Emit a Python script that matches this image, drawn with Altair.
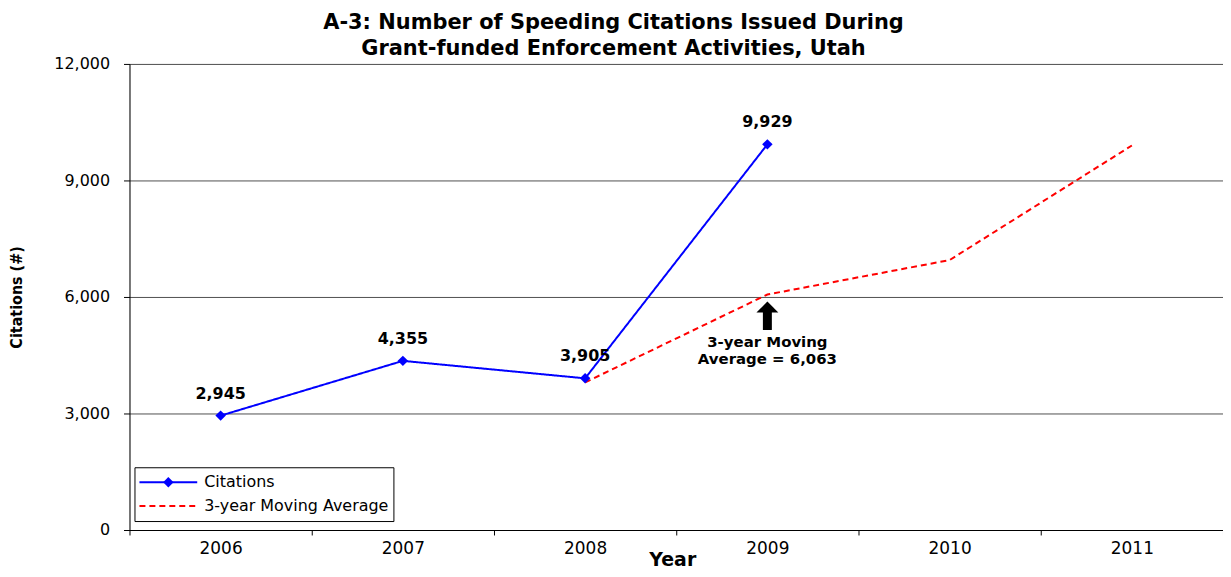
import altair as alt
import pandas as pd

years = ["2006", "2007", "2008", "2009", "2010", "2011"]
cit_years = ["2006", "2007", "2008", "2009"]
citations = [2945, 4355, 3905, 9929]
ma_years = ["2008", "2009", "2010", "2011"]
moving_avg = [3800, 6063, 6950, 9900]
series_names = ["Citations", "3-year Moving Average"]
y_ticks = [0, 3000, 6000, 9000, 12000]

FONT = "DejaVu Sans"

rows = []
for y, v in zip(cit_years, citations):
    rows.append({"year": y, "value": v, "series": series_names[0], "order": int(y)})
for y, v in zip(ma_years, moving_avg):
    rows.append({"year": y, "value": v, "series": series_names[1], "order": int(y)})
df = pd.DataFrame(rows)
cit_df = pd.DataFrame({"year": cit_years, "value": citations, "marker": [series_names[0]] * len(cit_years)})

x_enc = alt.X("year:O", scale=alt.Scale(type="band", domain=years, paddingInner=0, paddingOuter=0),
              axis=alt.Axis(title="Year", labelAngle=0, tickBand="extent", tickSize=5, tickColor="black",
                            domainColor="black", labelFontSize=17, labelPadding=6, labelColor="black",
                            titleFontSize=19, titleFontWeight="bold", titleX=545, titleY=36,
                            titleBaseline="alphabetic",
                            labelFont=FONT, titleFont=FONT, titleColor="black", grid=False))
y_enc = alt.Y("value:Q", scale=alt.Scale(domain=[0, 12000], nice=False),
              axis=alt.Axis(title="Citations (#)", values=y_ticks, format=",.0f", grid=True,
                            gridColor="#505050", gridOpacity=1, tickSize=6, tickColor="black",
                            domainColor="black", labelFontSize=16, labelPadding=14, labelColor="black",
                            labelFont=FONT, titleFont="DejaVu Sans Condensed", titleFontSize=16,
                            titleFontWeight="bold", titleColor="black", titleX=-113, titleY=234,
                            titleAlign="center", titleBaseline="middle", titleAngle=270))

lines = alt.Chart(df).mark_line(strokeWidth=2).encode(
    x=x_enc,
    y=y_enc,
    order="order:Q",
    color=alt.Color("series:N", scale=alt.Scale(domain=series_names, range=["#0000FF", "#FF0000"]),
                    legend=alt.Legend(title=None, orient="none", legendX=5, legendY=405,
                                      strokeColor="black", fillColor="white", padding=4,
                                      labelFontSize=16, labelFont=FONT, labelColor="black", labelLimit=400,
                                      symbolType="M-1,0H1", symbolSize=3364, symbolStrokeWidth=2,
                                      clipHeight=22, rowPadding=2, labelOffset=6, zindex=1)),
    strokeDash=alt.StrokeDash("series:N", scale=alt.Scale(domain=series_names, range=[[1, 0], [6, 4]]),
                              legend=None),
)

points = alt.Chart(cit_df).mark_point(filled=True, color="#0000FF", size=110, opacity=1).encode(
    x=alt.X("year:O"), y=y_enc,
    shape=alt.Shape("marker:N", scale=alt.Scale(domain=[series_names[0]], range=["diamond"]),
                    legend=alt.Legend(title=None, orient="none", legendX=33, legendY=409, padding=0,
                                      labelOpacity=0, labelFontSize=1, labelLimit=1,
                                      symbolFillColor="#0000FF", symbolStrokeColor="#0000FF",
                                      symbolSize=110, symbolOpacity=1, clipHeight=22, zindex=2)))

labels = alt.Chart(cit_df).mark_text(dy=-22, fontSize=16, fontWeight="bold", font=FONT, color="black").encode(
    x=alt.X("year:O"), y=y_enc, text=alt.Text("value:Q", format=","))

shaft_df = pd.DataFrame({"year": ["2009"], "value": [5150], "value2": [5640]})
head_df = pd.DataFrame({"year": ["2009"], "value": [5740]})
note_df = pd.DataFrame({"year": ["2009", "2009"], "value": [4840, 4400],
                        "txt": ["3-year Moving", "Average = 6,063"]})

shaft = alt.Chart(shaft_df).mark_rule(strokeWidth=9, color="black").encode(
    x="year:O", y=y_enc, y2="value2:Q")
head = alt.Chart(head_df).mark_point(shape="M-1,0.5L0,-0.5L1,0.5Z", filled=True, color="black",
                                     size=484, opacity=1).encode(x="year:O", y=y_enc)
notes = alt.Chart(note_df).mark_text(fontSize=15, fontWeight="bold", font=FONT, color="black").encode(
    x="year:O", y=y_enc, text="txt:N")

chart = alt.layer(lines, points, labels, shaft, head, notes).properties(
    width=1098, height=468,
    title=alt.TitleParams(["A-3: Number of Speeding Citations Issued During",
                           "Grant-funded Enforcement Activities, Utah"],
                          fontSize=21, font=FONT, fontWeight="bold", color="black", anchor="middle",
                          dx=-63, offset=-3, lineHeight=26),
    autosize=alt.AutoSizeParams(type="none"),
    padding={"left": 122, "top": 55, "right": 0, "bottom": 38},
).configure_view(stroke="#888888", strokeWidth=1).configure(background="white")

chart.save("out.html", embed_options={"renderer": "svg", "actions": False})
